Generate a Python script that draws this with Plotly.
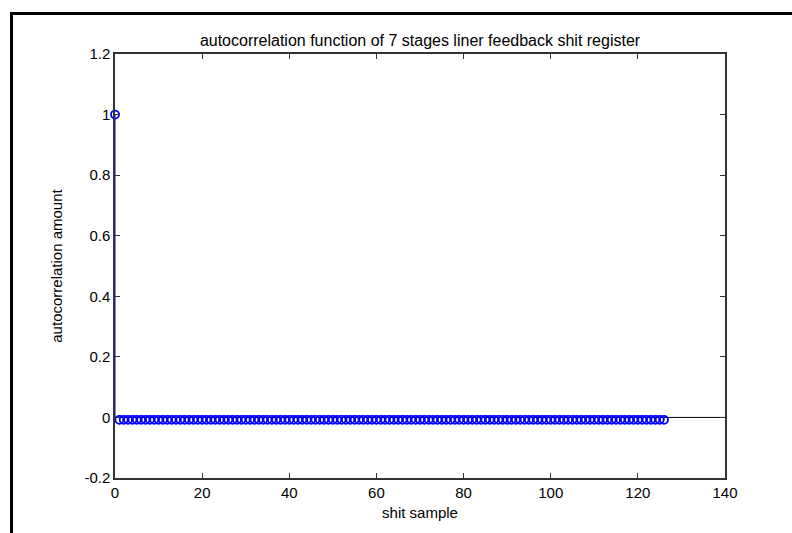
import plotly.graph_objects as go

# Data: autocorrelation of a 7-stage LFSR (m-sequence, period 127)
lags = list(range(127))
values = [1.0] + [-0.0079] * 126

title_text = "autocorrelation function of 7 stages liner feedback shit register"
x_title = "shit sample"
y_title = "autocorrelation amount"
x_ticks = [0, 20, 40, 60, 80, 100, 120, 140]
y_ticks = [-0.2, 0, 0.2, 0.4, 0.6, 0.8, 1.0, 1.2]
y_tick_labels = ["-0.2", "0", "0.2", "0.4", "0.6", "0.8", "1", "1.2"]

FONT = "Liberation Sans, Arial, Helvetica"

# stems
sx, sy = [], []
for x, y in zip(lags, values):
    sx += [x, x, None]
    sy += [0, y, None]

fig = go.Figure()
fig.add_trace(go.Scatter(x=sx, y=sy, mode="lines",
                         line=dict(color="#0000ff", width=1),
                         hoverinfo="skip", showlegend=False))
fig.add_trace(go.Scatter(x=lags, y=values, mode="markers",
                         marker=dict(symbol="circle-open", color="#0000ff",
                                     size=8, line=dict(width=1.8, color="#0000ff")),
                         cliponaxis=False, showlegend=False))

W, H = 792, 533
L, R, T, B = 115, 67, 54, 55
pw, ph = W - L - R, H - T - B

def px_to_paper_x(px):
    return (px - L) / pw

def px_to_paper_y(py):
    return (H - B - py) / ph

shapes = [
    # stem baseline
    dict(type="line", xref="x", yref="y", x0=0, x1=140, y0=0, y1=0,
         line=dict(color="black", width=1), layer="below"),
    # page frame (top and left)
    dict(type="line", xref="paper", yref="paper",
         x0=px_to_paper_x(10), x1=px_to_paper_x(W + 5),
         y0=px_to_paper_y(13.5), y1=px_to_paper_y(13.5),
         line=dict(color="black", width=3)),
    dict(type="line", xref="paper", yref="paper",
         x0=px_to_paper_x(11.5), x1=px_to_paper_x(11.5),
         y0=px_to_paper_y(12), y1=px_to_paper_y(H + 5),
         line=dict(color="black", width=3)),
]

axis_common = dict(showgrid=False, zeroline=False, showline=True, linecolor="#333333",
                   linewidth=1.5, mirror="ticks", ticks="inside", ticklen=5,
                   tickcolor="#333333", tickwidth=1.2,
                   tickfont=dict(family=FONT, size=15, color="black"))

fig.update_layout(
    width=W, height=H,
    margin=dict(l=L, r=R, t=T, b=B),
    paper_bgcolor="white", plot_bgcolor="white",
    title=dict(text=title_text, x=(L + pw / 2) / W, xanchor="center",
               y=1 - 40 / H, yanchor="middle",
               font=dict(family=FONT, size=16, color="black")),
    xaxis=dict(range=[0, 140], tickvals=x_ticks, ticktext=[str(t) for t in x_ticks],
               title=dict(text=x_title, standoff=8,
                          font=dict(family=FONT, size=15, color="black")),
               **axis_common),
    yaxis=dict(range=[-0.2, 1.2], tickvals=y_ticks, ticktext=y_tick_labels,
               title=dict(text=y_title, standoff=18,
                          font=dict(family=FONT, size=15, color="black")),
               **axis_common),
    shapes=shapes,
)

fig.write_html("out.html")
